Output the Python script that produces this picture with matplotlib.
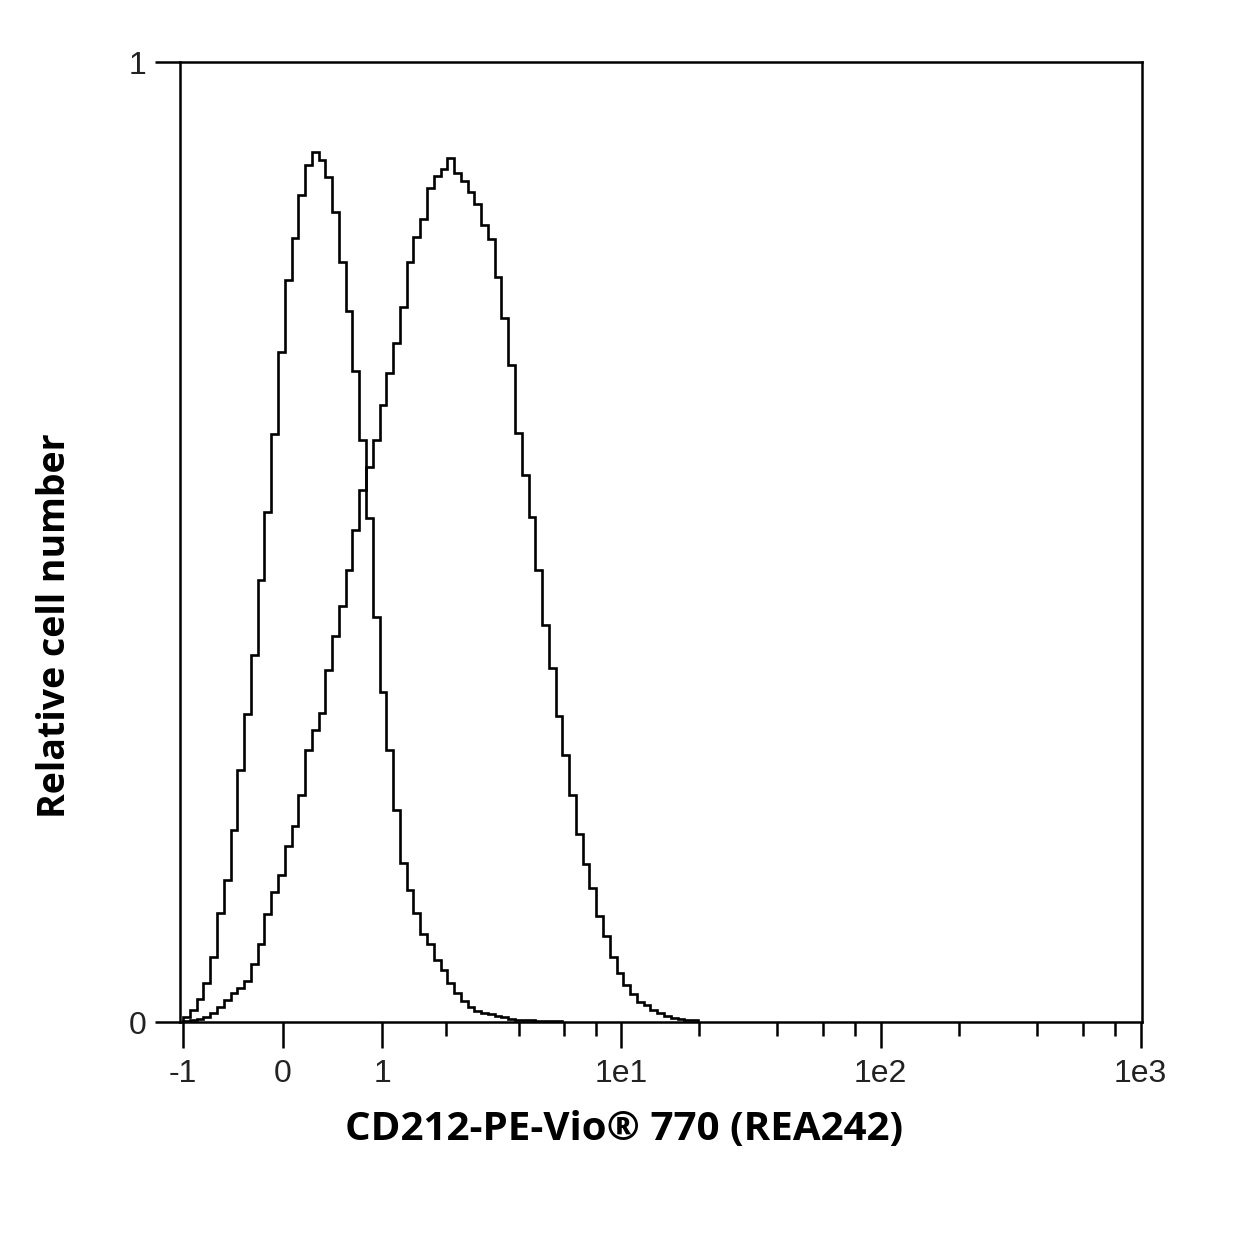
import numpy as np
import matplotlib
matplotlib.use("Agg")
import matplotlib.pyplot as plt

# channel grid: equal steps on the asinh display scale, starting at -1
chan_step = 0.06

# relative cell number per channel
neg_counts = [0.005, 0.0125, 0.024, 0.041, 0.068, 0.114, 0.148, 0.200, 0.263, 0.321,
              0.382, 0.460, 0.531, 0.613, 0.698, 0.773, 0.817, 0.861, 0.893, 0.906,
              0.898, 0.880, 0.844, 0.792, 0.741, 0.678, 0.606, 0.525, 0.422, 0.344,
              0.283, 0.221, 0.166, 0.138, 0.114, 0.092, 0.081, 0.065, 0.054, 0.041,
              0.030, 0.022, 0.016, 0.011, 0.009, 0.008, 0.006, 0.005, 0.003, 0.002,
              0.002, 0.002, 0.001, 0.001, 0.001, 0.001]

pos_counts = [0.001, 0.002, 0.003, 0.005, 0.009, 0.016, 0.023, 0.030, 0.035, 0.043,
              0.060, 0.081, 0.113, 0.135, 0.153, 0.183, 0.204, 0.236, 0.283, 0.304,
              0.322, 0.367, 0.402, 0.433, 0.471, 0.513, 0.554, 0.578, 0.606, 0.643,
              0.676, 0.707, 0.745, 0.792, 0.818, 0.836, 0.869, 0.881, 0.889, 0.900,
              0.884, 0.876, 0.865, 0.852, 0.830, 0.816, 0.776, 0.733, 0.684, 0.614,
              0.570, 0.526, 0.471, 0.414, 0.369, 0.319, 0.278, 0.236, 0.196, 0.165,
              0.140, 0.110, 0.090, 0.068, 0.051, 0.039, 0.029, 0.021, 0.018, 0.0125,
              0.009, 0.006, 0.004, 0.003, 0.002, 0.002]

major_ticks = [-1, 0, 1, 10, 100, 1000]
major_labels = ["-1", "0", "1", "1e1", "1e2", "1e3"]
minor_ticks = [2, 4, 6, 8, 20, 40, 60, 80, 200, 400, 600, 800]

x_label = "CD212-PE-Vio\u00ae 770 (REA242)"
y_label = "Relative cell number"


def edges_for(n):
    return np.sinh(np.arcsinh(-1) + chan_step * np.arange(n + 1))


fig = plt.figure(figsize=(12.5, 12.5), dpi=100)
ax = fig.add_axes([0.144, 0.1824, 0.7696, 0.768])

ax.set_xscale("function", functions=(np.arcsinh, np.sinh))

ax.stairs(neg_counts, edges_for(len(neg_counts)), baseline=0, color="black", lw=1.9)
ax.stairs(pos_counts, edges_for(len(pos_counts)), baseline=0, color="black", lw=1.9)

ax.set_xlim(-1.04, 1013)
ax.set_ylim(0, 1)

ax.set_xticks(major_ticks)
ax.set_xticklabels(major_labels)
ax.set_xticks(minor_ticks, minor=True)
ax.set_yticks([0, 1])
ax.set_yticklabels(["0", "1"])

for s in ax.spines.values():
    s.set_linewidth(1.8)

ax.tick_params(axis="x", which="major", direction="out", length=19, width=1.8,
               pad=8, labelsize=23, labelcolor="#222222")
ax.tick_params(axis="x", which="minor", direction="out", length=10, width=1.8)
ax.tick_params(axis="y", which="major", direction="out", length=18, width=1.8,
               pad=6, labelsize=23, labelcolor="#222222")
for lab in ax.get_xticklabels() + ax.get_yticklabels():
    lab.set_family("Liberation Sans")

# axis titles sit off-centre in the original export
fig.text(624 / 1250, 1 - 1130 / 1250, x_label, fontsize=29, fontweight="bold",
         family="Open Sans", ha="center", va="center")
fig.text(55 / 1250, 1 - 626 / 1250, y_label, fontsize=27, fontweight="bold",
         family="Open Sans", ha="center", va="center", rotation=90)

fig.savefig("out.png", dpi=100, facecolor="white")
